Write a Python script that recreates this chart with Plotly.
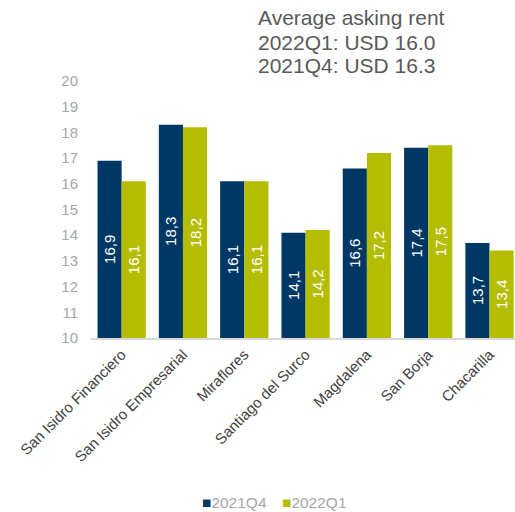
import plotly.graph_objects as go

categories = ["San Isidro Financiero", "San Isidro Empresarial", "Miraflores",
              "Santiago del Surco", "Magdalena", "San Borja", "Chacarilla"]
q4_2021 = [16.9, 18.3, 16.1, 14.1, 16.6, 17.4, 13.7]
q1_2022 = [16.1, 18.2, 16.1, 14.2, 17.2, 17.5, 13.4]
y_ticks = [10, 11, 12, 13, 14, 15, 16, 17, 18, 19, 20]
axis_base = 10
series_names = ["2021Q4", "2022Q1"]
title_lines = ["Average asking rent", "2022Q1: USD 16.0", "2021Q4: USD 16.3"]

navy = "#003865"
green = "#B5BD00"
FONT = "Liberation Sans"

# page geometry (body margin removed below)
PL, PR, PT, PB = 91.4, 515.0, 81.0, 338.0
W, H = 515, 512
pw, ph = PR - PL, PB - PT

def px_x(x):
    return (x - PL) / pw

def px_y(y):
    return (PB - y) / ph

fig = go.Figure()
for name, vals, col in [(series_names[0], q4_2021, navy), (series_names[1], q1_2022, green)]:
    fig.add_trace(go.Bar(
        x=categories, y=[v - axis_base for v in vals], base=axis_base, customdata=vals,
        name=name, marker=dict(color=col, line=dict(width=0)), showlegend=False,
        texttemplate="%{customdata:.1f}", textposition="inside", insidetextanchor="middle",
        textangle=-90, textfont=dict(color="white", size=15, family=FONT),
        hovertemplate="%{x}: %{customdata}<extra>" + name + "</extra>",
    ))

annotations = []
for line, yc in zip(title_lines, [18, 42, 65]):
    annotations.append(dict(
        text=line, xref="paper", yref="paper", x=px_x(256), y=px_y(yc),
        xanchor="left", yanchor="middle", showarrow=False,
        font=dict(size=21, color="#595959", family=FONT),
    ))
for name, col, xl in [(series_names[0], navy, 201), (series_names[1], green, 281)]:
    annotations.append(dict(
        text=f"<span style='color:{col}'>■</span>{name}", xref="paper", yref="paper",
        x=px_x(xl), y=px_y(511.5), xanchor="left", yanchor="bottom", showarrow=False,
        borderpad=0, font=dict(size=15.5, color="#A6A6A6", family=FONT),
    ))

fig.update_layout(
    width=W, height=H,
    margin=dict(l=PL, r=W - PR, t=PT, b=H - PB, pad=0),
    paper_bgcolor="white", plot_bgcolor="white",
    barmode="group", bargap=0.213, bargroupgap=0,
    separators=",.",
    font=dict(family=FONT, color="#444"),
    showlegend=False,
    xaxis=dict(tickangle=-45, tickfont=dict(size=15, color="#404040"), showline=True,
               linecolor="#d9d9d9", linewidth=2, ticks="", automargin=False,
               range=[-0.5, -0.5 + pw / 61.25]),
    yaxis=dict(range=[10, 20], tickvals=y_ticks, showgrid=False, zeroline=False,
               tickfont=dict(size=15, color="#A6A6A6"), ticks="", ticklabelstandoff=12,
               automargin=False),
    annotations=annotations,
)

fig.write_html("out.html", config={"displayModeBar": False},
               post_script="document.body.style.margin='0';document.body.style.overflow='hidden';")
